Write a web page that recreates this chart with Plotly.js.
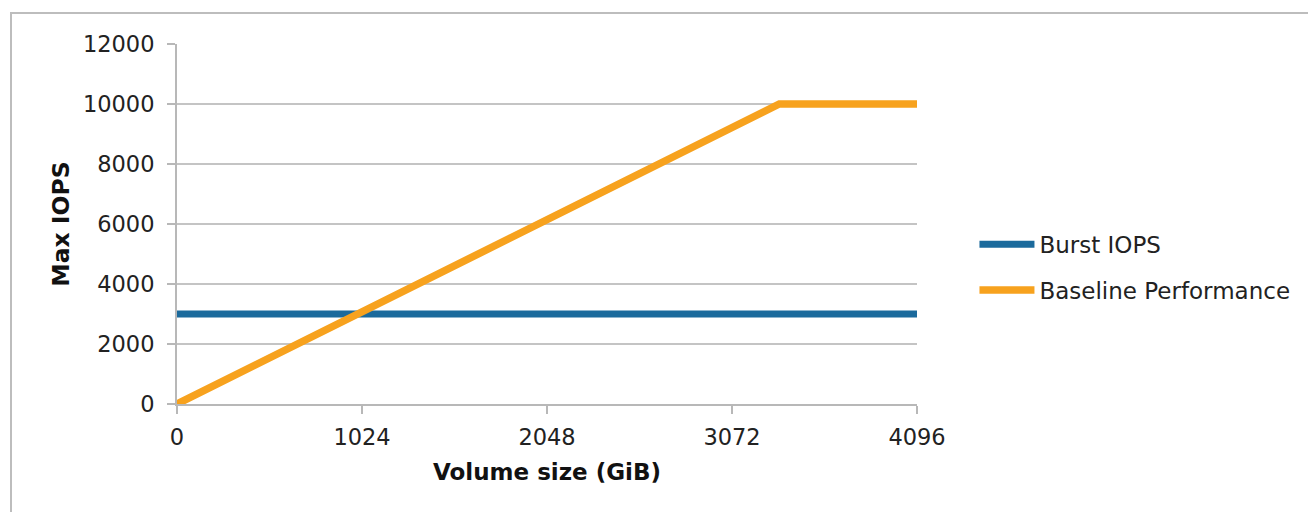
<!DOCTYPE html>
<html>
<head>
<meta charset="utf-8">
<script src="https://cdn.plot.ly/plotly-3.0.1.min.js"></script>
<style>
  html, body { margin: 0; padding: 0; background: #ffffff; }
  #wrap { position: relative; width: 1308px; height: 512px; overflow: hidden; }
  #frameTop { position: absolute; left: 10px; top: 12px; width: 1298px; height: 2px; background: #bdbdbd; }
  #frameLeft { position: absolute; left: 10px; top: 12px; width: 2px; height: 500px; background: #bdbdbd; }
  #chart { position: absolute; left: 0; top: 0; width: 1308px; height: 512px; }
</style>
</head>
<body>
<div id="wrap">
  <div id="chart"></div>
  <div id="frameTop"></div>
  <div id="frameLeft"></div>
</div>
<script>
// Data
const volumeSize = [0, 3334, 4096];           // GiB
const burstIOPS = [3000, 3000, 3000];
const baselineIOPS = [0, 10000, 10000];
const xTicks = [0, 1024, 2048, 3072, 4096];
const yTicks = [0, 2000, 4000, 6000, 8000, 10000, 12000];
const seriesNames = ["Burst IOPS", "Baseline Performance"];

const font = "DejaVu Sans, Verdana, sans-serif";

const traces = [
  {
    x: volumeSize, y: burstIOPS, name: seriesNames[0], mode: "lines",
    line: { color: "#1b6a9c", width: 7 }, legendgroup: "a"
  },
  {
    x: volumeSize, y: baselineIOPS, name: seriesNames[1], mode: "lines",
    line: { color: "#f7a21e", width: 7.5 }, legendgroup: "b"
  }
];

const layout = {
  width: 1308, height: 512,
  margin: { l: 177, r: 391, t: 44, b: 108 },
  paper_bgcolor: "#ffffff", plot_bgcolor: "#ffffff",
  font: { family: font, size: 22, color: "#222222" },
  showlegend: true,
  legend: {
    xref: "container", yref: "container",
    x: 0.745, y: 0.565, xanchor: "left", yanchor: "top",
    traceorder: "grouped", tracegroupgap: 13,
    itemwidth: 55,
    font: { family: font, size: 23, color: "#222222" },
    bgcolor: "rgba(0,0,0,0)"
  },
  xaxis: {
    range: [0, 4096], tickvals: xTicks, ticktext: xTicks.map(String),
    showgrid: false, zeroline: false,
    showline: true, linecolor: "#b8b8b8", linewidth: 2,
    ticks: "outside", ticklen: 8, tickwidth: 2, tickcolor: "#b8b8b8",
    ticklabelstandoff: 4,
    tickfont: { family: font, size: 22.5, color: "#222222" },
    title: { text: "<b>Volume size (GiB)</b>", font: { family: font, size: 23, color: "#111111" }, standoff: 15 },
    fixedrange: true
  },
  yaxis: {
    range: [0, 12000], tickvals: yTicks, ticktext: yTicks.map(String),
    showgrid: true, gridcolor: "#c4c4c4", gridwidth: 2,
    zeroline: false,
    showline: true, linecolor: "#b8b8b8", linewidth: 2,
    ticks: "outside", ticklen: 8, tickwidth: 2, tickcolor: "#b8b8b8",
    ticklabelstandoff: 8,
    tickfont: { family: font, size: 22.5, color: "#222222" },
    title: { text: "<b>Max IOPS</b>", font: { family: font, size: 23.5, color: "#111111" }, standoff: 7 },
    fixedrange: true
  }
};

Plotly.newPlot("chart", traces, layout, { displayModeBar: false, staticPlot: true });
</script>
</body>
</html>
